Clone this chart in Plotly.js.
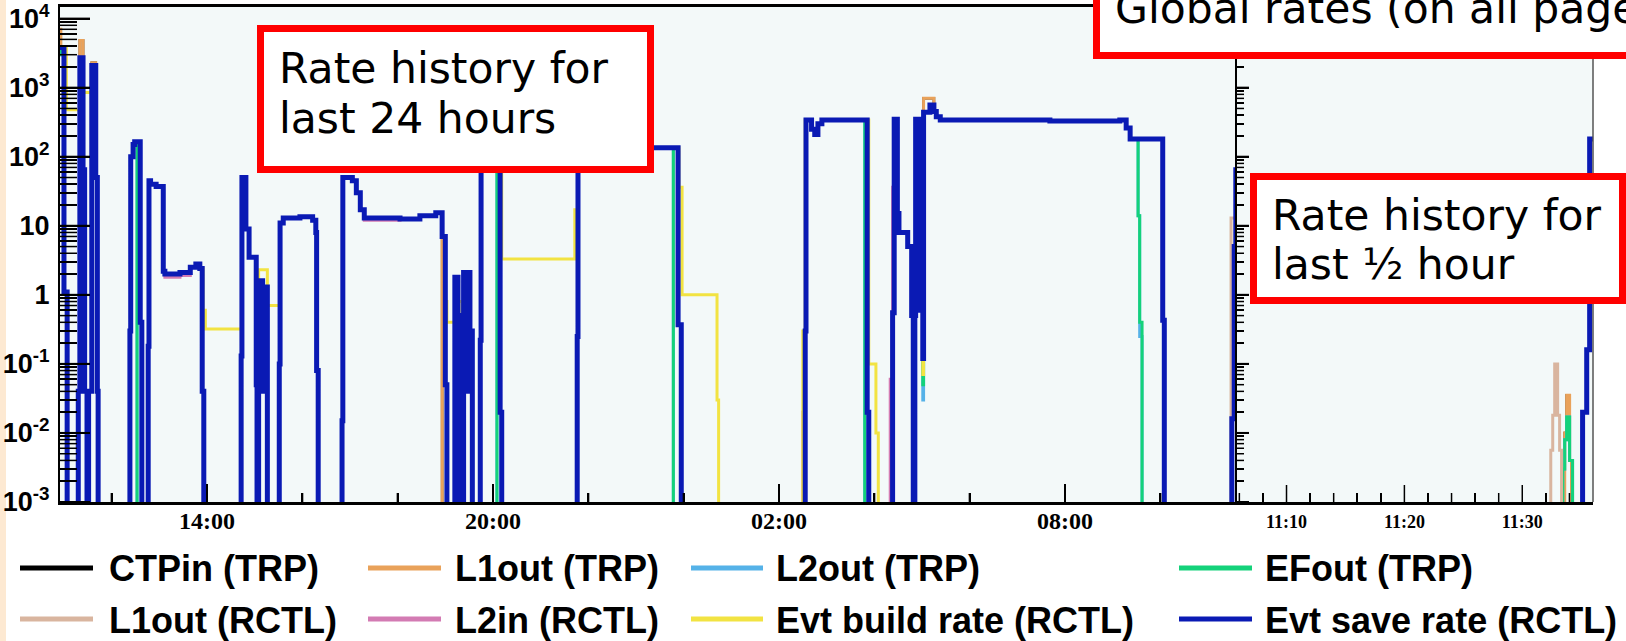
<!DOCTYPE html>
<html><head><meta charset="utf-8">
<script src="https://cdn.plot.ly/plotly-3.0.1.min.js"></script>
<style>html,body{margin:0;padding:0;background:#fff;overflow:hidden}#chart{width:1626px;height:641px}</style>
</head><body><div id="chart"></div>
<script>
// ---------------- data ----------------
const OFF = 1e-5; // zero rate: lies below the 1e-3 floor of the log axis

const seriesNames = ['CTPin (TRP)', 'L1out (TRP)', 'L2out (TRP)', 'EFout (TRP)',
                     'L1out (RCTL)', 'L2in (RCTL)', 'Evt build rate (RCTL)', 'Evt save rate (RCTL)'];

// 24-hour history: change points of the step curves
const leftTimes = [
 '2008-09-10 10:54','2008-09-10 10:56','2008-09-10 11:00','2008-09-10 11:03','2008-09-10 11:04','2008-09-10 11:18','2008-09-10 11:20','2008-09-10 11:23','2008-09-10 11:24','2008-09-10 11:26',
 '2008-09-10 11:29','2008-09-10 11:31','2008-09-10 11:35','2008-09-10 11:40','2008-09-10 11:42','2008-09-10 11:43','2008-09-10 12:23','2008-09-10 12:24','2008-09-10 12:27','2008-09-10 12:29',
 '2008-09-10 12:32','2008-09-10 12:36','2008-09-10 12:38','2008-09-10 12:46','2008-09-10 12:47','2008-09-10 12:49','2008-09-10 12:56','2008-09-10 13:05','2008-09-10 13:07','2008-09-10 13:26',
 '2008-09-10 13:39','2008-09-10 13:46','2008-09-10 13:51','2008-09-10 13:54','2008-09-10 13:55','2008-09-10 13:56','2008-09-10 13:58','2008-09-10 14:43','2008-09-10 14:44','2008-09-10 14:49',
 '2008-09-10 14:53','2008-09-10 15:02','2008-09-10 15:03','2008-09-10 15:05','2008-09-10 15:08','2008-09-10 15:10','2008-09-10 15:13','2008-09-10 15:16','2008-09-10 15:31','2008-09-10 15:32',
 '2008-09-10 15:36','2008-09-10 15:57','2008-09-10 16:13','2008-09-10 16:17','2008-09-10 16:18','2008-09-10 16:20','2008-09-10 16:50','2008-09-10 16:51','2008-09-10 17:03','2008-09-10 17:08',
 '2008-09-10 17:13','2008-09-10 17:18','2008-09-10 18:03','2008-09-10 18:28','2008-09-10 18:48','2008-09-10 18:56','2008-09-10 19:00','2008-09-10 19:02','2008-09-10 19:12','2008-09-10 19:16',
 '2008-09-10 19:18','2008-09-10 19:21','2008-09-10 19:23','2008-09-10 19:26','2008-09-10 19:29','2008-09-10 19:31','2008-09-10 19:34','2008-09-10 19:44','2008-09-10 19:45','2008-09-10 20:05',
 '2008-09-10 20:09','2008-09-10 20:11','2008-09-10 21:43','2008-09-10 21:46','2008-09-10 21:47','2008-09-10 23:47','2008-09-10 23:53','2008-09-10 23:54','2008-09-10 23:57','2008-09-10 23:58',
 '2008-09-11 00:42','2008-09-11 00:44','2008-09-11 02:30','2008-09-11 02:33','2008-09-11 02:34','2008-09-11 02:41','2008-09-11 02:45','2008-09-11 02:49','2008-09-11 02:54','2008-09-11 03:48',
 '2008-09-11 03:51','2008-09-11 03:53','2008-09-11 04:02','2008-09-11 04:05','2008-09-11 04:20','2008-09-11 04:23','2008-09-11 04:25','2008-09-11 04:29','2008-09-11 04:31','2008-09-11 04:42',
 '2008-09-11 04:47','2008-09-11 04:49','2008-09-11 04:51','2008-09-11 04:52','2008-09-11 04:56','2008-09-11 04:59','2008-09-11 05:01','2008-09-11 05:02','2008-09-11 05:04','2008-09-11 05:10',
 '2008-09-11 05:15','2008-09-11 05:18','2008-09-11 05:23','2008-09-11 07:41','2008-09-11 09:09','2008-09-11 09:17','2008-09-11 09:22','2008-09-11 09:32','2008-09-11 09:34','2008-09-11 09:37',
 '2008-09-11 10:03','2008-09-11 10:05','2008-09-11 11:29','2008-09-11 11:30','2008-09-11 11:33','2008-09-11 11:35','2008-09-11 11:38'];

const leftCTPin = [
 7000,3800,1.1,1.1,OFF,0.04,4800,4800,65,0.04,  OFF,0.04,2300,50,0.04,OFF,0.3,100,150,165,
 165,0.4,OFF,0.18,45,40,37,2.2,2.0,2.1,  2.5,2.8,2.4,0.04,0.04,OFF,OFF,0.13,50,9,
 3.5,0.05,OFF,0.05,1.6,0.04,1.3,OFF,0.1,11,  13,13.5,12,8,0.08,OFF,0.015,50,45,30,
 17,13,12.5,14,15.5,OFF,OFF,OFF,1.8,OFF,  0.5,OFF,2.1,0.04,2.1,0.3,OFF,0.22,150,150,
 0.02,OFF,OFF,0.25,135,135,0.37,0.37,OFF,OFF,  OFF,OFF,OFF,0.3,340,250,210,300,340,340,
 0.02,OFF,OFF,OFF,OFF,0.55,350,15,8,5,  0.5,OFF,0.5,350,0.6,300,0.12,700,700,700,
 450,380,340,330,340,260,180,180,180,180,  0.43,OFF,OFF,0.016,5,65,65];
const leftL1outTRP = [
 7000,3800,1.1,1.1,OFF,0.04,4800,4800,65,0.04,  OFF,0.04,2300,50,0.04,OFF,0.3,100,150,165,
 165,0.4,OFF,0.18,45,40,37,2.2,2.0,2.1,  2.5,2.8,2.4,0.04,0.04,OFF,OFF,0.13,50,9,
 3.5,0.05,OFF,0.05,1.6,0.04,1.3,OFF,0.1,11,  13,13.5,12,8,0.08,OFF,0.015,50,45,30,
 17,13,12.5,14,15.5,OFF,OFF,OFF,1.8,OFF,  0.5,OFF,2.1,0.04,2.1,0.3,OFF,0.22,150,150,
 0.02,OFF,OFF,0.25,135,135,0.37,0.37,OFF,OFF,  OFF,OFF,OFF,0.3,340,250,210,300,340,340,
 0.02,OFF,OFF,OFF,OFF,0.55,350,15,8,5,  0.5,OFF,0.5,350,0.6,300,0.12,700,700,700,
 450,380,340,330,340,260,180,180,180,180,  0.43,OFF,OFF,0.016,5,65,65];
const leftL2outTRP = [
 3000,3800,1.1,1.1,OFF,0.04,2700,2700,65,0.04,  OFF,0.04,2100,50,0.04,OFF,0.3,100,150,165,
 OFF,OFF,OFF,0.18,45,40,37,2.2,2.0,2.1,  2.5,2.8,2.4,0.04,0.04,OFF,OFF,0.13,50,9,
 3.5,0.05,OFF,0.05,1.6,0.04,1.3,OFF,0.1,11,  13,13.5,12,8,0.08,OFF,0.015,50,45,30,
 17,13,12.5,14,15.5,7,0.05,OFF,1.8,OFF,  0.5,OFF,2.1,0.04,2.1,0.3,OFF,0.22,150,OFF,
 OFF,OFF,OFF,0.25,135,OFF,OFF,OFF,OFF,OFF,  OFF,OFF,OFF,0.3,340,250,210,300,340,OFF,
 OFF,OFF,OFF,OFF,OFF,0.55,350,15,8,5,  0.5,OFF,0.5,350,0.6,300,0.03,440,440,560,
 450,380,340,330,340,260,180,14,0.25,OFF,  OFF,OFF,OFF,0.016,5,65,65];
const leftEFoutTRP = [
 3000,3800,1.1,1.1,OFF,0.04,2700,2700,65,0.04,  OFF,0.04,2100,50,0.04,OFF,0.3,100,150,165,
 OFF,OFF,OFF,0.18,45,40,37,2.2,2.0,2.1,  2.5,2.8,2.4,0.04,0.04,OFF,OFF,0.13,50,9,
 3.5,0.05,OFF,0.05,1.6,0.04,1.3,OFF,0.1,11,  13,13.5,12,8,0.08,OFF,0.015,50,45,30,
 17,13,12.5,14,15.5,7,0.05,OFF,1.8,OFF,  0.5,OFF,2.1,0.04,2.1,0.3,OFF,0.22,150,OFF,
 OFF,OFF,OFF,0.25,135,OFF,OFF,OFF,OFF,OFF,  OFF,OFF,OFF,0.3,340,250,210,300,340,OFF,
 OFF,OFF,OFF,OFF,OFF,0.55,350,15,8,5,  0.5,OFF,0.5,350,0.6,300,0.05,440,440,560,
 450,380,340,330,340,260,180,14,0.4,OFF,  OFF,OFF,OFF,0.016,5,65,65];
const leftL1outRCTL = [
 3800,3800,1.1,1.1,OFF,0.04,2700,2700,65,0.04,  OFF,0.04,2100,50,0.04,OFF,0.3,100,150,165,
 165,0.4,OFF,0.18,45,40,37,2.2,2.0,2.1,  2.5,2.8,2.4,0.04,0.04,OFF,OFF,0.13,50,9,
 3.5,0.05,OFF,0.05,1.6,0.04,1.3,OFF,0.1,11,  13,13.5,12,8,0.08,OFF,0.015,50,45,30,
 17,13,12.5,14,15.5,7,0.05,OFF,1.8,OFF,  0.5,OFF,2.1,0.04,2.1,0.3,OFF,0.22,150,150,
 0.02,OFF,OFF,0.25,135,135,0.37,0.37,OFF,OFF,  OFF,OFF,OFF,0.3,340,250,210,300,340,340,
 0.02,OFF,OFF,OFF,OFF,0.55,350,15,8,5,  0.5,OFF,0.5,350,0.6,300,0.12,440,440,560,
 450,380,340,330,340,260,180,180,180,180,  0.43,OFF,13,13,13,65,65];
const leftL2inRCTL = [
 3800,3800,1.1,1.1,OFF,0.04,2700,2700,65,0.04,  OFF,0.04,2100,50,0.04,OFF,0.3,100,150,165,
 165,0.4,OFF,0.18,45,40,37,2.2,1.8,1.9,  2.5,2.8,2.4,0.04,0.04,OFF,OFF,0.13,50,9,
 3.5,0.05,OFF,0.05,1.6,0.04,1.3,OFF,0.1,11,  13,13.5,12,8,0.08,OFF,0.015,50,45,30,
 17,12,12.5,14,15.5,7,0.05,OFF,1.8,OFF,  0.5,OFF,2.1,0.04,2.1,0.3,OFF,0.22,150,150,
 0.02,OFF,OFF,0.25,135,135,0.37,0.37,OFF,OFF,  OFF,OFF,0.02,0.3,340,250,210,300,340,340,
 0.02,OFF,OFF,OFF,0.06,36,350,15,8,5,  0.5,OFF,0.5,350,0.6,300,0.12,440,440,560,
 450,380,340,330,340,260,180,180,180,180,  0.43,OFF,OFF,0.016,5,65,65];
const leftEvtBuild = [
 3800,3800,3800,480,480,480,2700,2700,850,850,  850,850,2100,50,0.04,OFF,0.3,100,150,165,
 165,0.4,OFF,0.18,45,40,37,2.2,2.0,2.1,  2.5,2.8,2.4,2.4,0.6,0.6,0.32,0.32,50,9,
 3.5,0.05,OFF,2.3,2.3,2.3,2.3,0.7,0.7,11,  13,13.5,12,8,0.08,OFF,0.015,50,45,30,
 17,13,12.5,14,15.5,7,0.8,0.4,1.8,0.8,  0.8,0.15,2.1,0.5,2.1,0.3,OFF,0.22,150,150,
 150,3.3,17,17,135,135,135,36,36,1.0,  0.03,OFF,0.3,340,340,250,210,300,340,340,
 340,0.1,0.01,OFF,OFF,0.55,350,15,8,5,  0.5,OFF,0.5,350,0.6,300,0.07,440,440,560,
 450,380,340,330,340,260,180,180,180,180,  0.43,OFF,OFF,0.016,5,65,65];
const leftEvtSave = [
 3800,3800,1.1,1.1,OFF,0.04,2700,2700,65,0.04,  OFF,0.04,2100,50,0.04,OFF,0.3,100,150,165,
 165,0.4,OFF,0.18,45,40,37,2.2,2.0,2.1,  2.5,2.8,2.4,0.04,0.04,OFF,OFF,0.13,50,9,
 3.5,0.05,OFF,0.05,1.6,0.04,1.3,OFF,0.1,11,  13,13.5,12,8,0.08,OFF,0.015,50,45,30,
 17,13,12.5,14,15.5,7,0.05,OFF,1.8,OFF,  0.5,OFF,2.1,0.04,2.1,0.3,OFF,0.22,150,150,
 0.02,OFF,OFF,0.25,135,135,0.37,0.37,OFF,OFF,  OFF,OFF,OFF,0.3,340,250,210,300,340,340,
 0.02,OFF,OFF,OFF,OFF,0.55,350,15,8,5,  0.5,OFF,0.5,350,0.6,300,0.12,440,440,560,
 450,380,340,330,340,260,180,180,180,180,  0.43,OFF,OFF,0.016,5,65,65];

// last half hour
const rightTimes = ['2008-09-11 11:05:00','2008-09-11 11:32:25','2008-09-11 11:32:35','2008-09-11 11:32:45','2008-09-11 11:33:00',
 '2008-09-11 11:33:10','2008-09-11 11:33:20','2008-09-11 11:33:26','2008-09-11 11:33:36','2008-09-11 11:33:46','2008-09-11 11:34:01',
 '2008-09-11 11:34:11','2008-09-11 11:34:16','2008-09-11 11:35:07','2008-09-11 11:35:28','2008-09-11 11:35:43','2008-09-11 11:37:00'];
const rightCTPin      = [OFF,OFF,OFF,OFF,OFF,OFF,OFF,OFF,0.01,0.035,0.004,OFF,OFF,0.02,0.16,180,180];
const rightL1outTRP   = [OFF,OFF,OFF,OFF,OFF,OFF,OFF,OFF,0.01,0.035,0.004,OFF,OFF,0.02,0.16,180,180];
const rightL2outTRP   = [OFF,OFF,OFF,OFF,OFF,OFF,OFF,0.003,0.008,0.017,0.004,0.004,OFF,0.02,0.16,180,180];
const rightEFoutTRP   = [OFF,OFF,OFF,OFF,OFF,OFF,OFF,0.003,0.008,0.017,0.004,0.004,OFF,0.02,0.16,180,180];
const rightL1outRCTL  = [OFF,0.0056,0.018,0.1,0.018,0.0056,OFF,OFF,OFF,OFF,OFF,OFF,OFF,0.02,0.16,180,180];
const rightL2inRCTL   = [OFF,OFF,OFF,OFF,OFF,OFF,OFF,OFF,OFF,OFF,OFF,OFF,OFF,0.02,0.16,180,180];
const rightEvtBuild   = [OFF,OFF,OFF,OFF,OFF,OFF,OFF,OFF,OFF,OFF,OFF,OFF,OFF,0.02,0.16,180,180];
const rightEvtSave    = [OFF,OFF,OFF,OFF,OFF,OFF,OFF,OFF,OFF,OFF,OFF,OFF,OFF,0.02,0.16,180,180];

const yTickVals  = [0.001, 0.01, 0.1, 1, 10, 100, 1000, 10000];
const yTickText  = ['10<sup>-3</sup>','10<sup>-2</sup>','10<sup>-1</sup>','1','10','10<sup>2</sup>','10<sup>3</sup>','10<sup>4</sup>'];

// ---------------- styles / layout ----------------
const seriesColors = ['#000000','#e9a25a','#55b2e8','#14d27a','#d9b59f','#d37bb3','#f2e342','#0a1ab4'];
const seriesWidths = [2.5, 3, 3, 3, 3, 3, 3, 5];

const W = 1626, PT = 7, PB = 502;
const px = x => x / W;
const py = y => (PB - y) / (PB - PT);
const yRange = [-3, 4.168];
const leftRange = ['2008-09-10 10:55:00', '2008-09-11 11:36:30'];
const rightRange = ['2008-09-11 11:05:48', '2008-09-11 11:36:00'];

const yMinor = [];
for (let d = -3; d <= 3; d++) for (let m = 2; m <= 9; m++) yMinor.push(m * Math.pow(10, d));

const leftSeries  = [leftCTPin, leftL1outTRP, leftL2outTRP, leftEFoutTRP, leftL1outRCTL, leftL2inRCTL, leftEvtBuild, leftEvtSave];
const rightSeries = [rightCTPin, rightL1outTRP, rightL2outTRP, rightEFoutTRP, rightL1outRCTL, rightL2inRCTL, rightEvtBuild, rightEvtSave];

const traces = [];
leftSeries.forEach((v, i) => {
  if (v.length !== leftTimes.length) throw new Error('left length ' + seriesNames[i] + ' ' + v.length + ' vs ' + leftTimes.length);
  traces.push({type:'scatter', mode:'lines', x:leftTimes, y:v, name:seriesNames[i], xaxis:'x', yaxis:'y',
    line:{shape:'hv', color:seriesColors[i], width:seriesWidths[i]}, hoverinfo:'skip', showlegend:false});
});
rightSeries.forEach((v, i) => {
  if (v.length !== rightTimes.length) throw new Error('right length ' + seriesNames[i] + ' ' + v.length);
  traces.push({type:'scatter', mode:'lines', x:rightTimes, y:v, name:seriesNames[i], xaxis:'x2', yaxis:'y2',
    line:{shape:'hv', color:seriesColors[i], width:seriesWidths[i]}, hoverinfo:'skip', showlegend:false});
});

const axisCommon = {showgrid:false, zeroline:false, showline:true, linecolor:'black', tickcolor:'black', ticks:'inside', layer:'above traces'};

// ----- inside tick marks, placed on the same scales as the axes -----
const ms = s => Date.parse(s.replace(' ', 'T') + 'Z');
const t0L = ms(leftRange[0]), t1L = ms(leftRange[1]), t0R = ms(rightRange[0]), t1R = ms(rightRange[1]);
const xL = t => px(60) + (t - t0L) / (t1L - t0L) * (px(1237) - px(60));
const xR = t => px(1237) + (t - t0R) / (t1R - t0R) * (px(1593) - px(1237));
const yv = v => (Math.log10(v) - yRange[0]) / (yRange[1] - yRange[0]);
const shapes = [];
function hTick(x0, len, v, w) {
  shapes.push({type:'line', xref:'paper', yref:'paper', x0:px(x0), x1:px(x0 + len), y0:yv(v), y1:yv(v), line:{color:'black', width:w}, layer:'above'});
}
function vTick(xp, len, w) {
  shapes.push({type:'line', xref:'paper', yref:'paper', x0:xp, x1:xp, y0:0, y1:len / (PB - PT), line:{color:'black', width:w}, layer:'above'});
}
yTickVals.forEach(v => { hTick(60, 30, v, 2); hTick(1237, 12, v, 2); });
yMinor.forEach(v => { hTick(60, 17, v, 1.5); hTick(1237, 7, v, 1.5); });
const majL = ms('2008-09-10 02:00:00'), majR = ms('2008-09-11 11:00:00');
for (let t = ms('2008-09-10 12:00:00'); t < t1L; t += 7200000) vTick(xL(t), ((t - majL) % 21600000) === 0 ? 18 : 9, 2);
for (let t = ms('2008-09-11 11:06:00'); t < t1R; t += 120000) vTick(xR(t), ((t - majR) % 600000) === 0 ? 17 : 9, 1.5);

shapes.push(
  // peach strip at the far left
  {type:'rect', xref:'paper', yref:'paper', x0:0, x1:px(6), y0:py(650), y1:py(-10), fillcolor:'#fde9d2', line:{width:0}, layer:'below'},
  // right border of the half-hour panel
  {type:'line', xref:'paper', yref:'paper', x0:px(1593), x1:px(1593), y0:0, y1:1, line:{color:'#555555', width:1.5}, layer:'above'},
  // red callout boxes
  {type:'rect', xref:'paper', yref:'paper', x0:px(260.5), x1:px(650.5), y0:py(169.5), y1:py(28.5), fillcolor:'white', line:{color:'#ff0000', width:7}, layer:'above'},
  {type:'rect', xref:'paper', yref:'paper', x0:px(1096.5), x1:px(1720), y0:py(55.5), y1:py(-60), fillcolor:'white', line:{color:'#ff0000', width:7}, layer:'above'},
  {type:'rect', xref:'paper', yref:'paper', x0:px(1253.5), x1:px(1622.5), y0:py(300.5), y1:py(176.5), fillcolor:'white', line:{color:'#ff0000', width:7}, layer:'above'}
);

const boxFont = {family:'DejaVu Sans', size:42.5, color:'black'};
const annotations = [];
function note(text, x, top, font) {
  annotations.push({text, xref:'paper', yref:'paper', x:px(x), y:py(top), xanchor:'left', yanchor:'top',
    showarrow:false, align:'left', font, borderpad:0, borderwidth:0});
}
note('Rate history for', 279, 44, boxFont);
note('last 24 hours', 279, 94, boxFont);
note('Global rates (on all pages)', 1115, -16, boxFont);
note('Rate history for', 1272, 190.6, boxFont);
note('last \u00bd hour', 1272, 240, boxFont);

// legend drawn as sample lines + bold labels, 4 columns x 2 rows
const legLineX0 = [20, 368, 691, 1179], legLineX1 = [93, 441, 763, 1252], legTextX = [108.5, 454.5, 775.5, 1265];
const legLineY = [568, 619], legTextTop = [547.5, 599.5];
const legFont = {family:'Liberation Sans', size:36, color:'black', weight:'bold'};
seriesNames.forEach((n, i) => {
  const c = i % 4, r = Math.floor(i / 4);
  shapes.push({type:'line', xref:'paper', yref:'paper', x0:px(legLineX0[c]), x1:px(legLineX1[c]), y0:py(legLineY[r]), y1:py(legLineY[r]),
    line:{color:seriesColors[i], width:5}, layer:'above'});
  note('<b>' + n + '</b>', legTextX[c], legTextTop[r], legFont);
});

const layout = {
  width: 1626, height: 641,
  margin: {l:0, r:0, t:PT, b:641 - PB, pad:0},
  paper_bgcolor: 'white', plot_bgcolor: '#f3f9f9',
  showlegend: false,
  xaxis: Object.assign({}, axisCommon, {
    domain:[px(60), px(1237)], anchor:'y', type:'date', range:leftRange,
    tickmode:'linear', tick0:'2008-09-10 02:00', dtick:6*3600000, tickformat:'%H:%M',
    ticklen:18, tickwidth:2, linewidth:3, mirror:true,
    tickfont:{family:'Liberation Serif', size:24, color:'black', weight:'bold'}, ticklabelstandoff:-5,
    minor:{ticks:'inside', ticklen:9, tickwidth:2, tickcolor:'black', tick0:'2008-09-10 02:00', dtick:2*3600000, showgrid:false}
  }),
  yaxis: Object.assign({}, axisCommon, {
    domain:[0,1], anchor:'x', type:'log', range:yRange,
    tickmode:'array', tickvals:yTickVals, ticktext:yTickText,
    ticklen:30, tickwidth:2, linewidth:2, ticklabeloverflow:'allow',
    tickfont:{family:'Liberation Sans', size:27, color:'black', weight:'bold'}, ticklabelstandoff:3,
    minor:{tickmode:'array', tickvals:yMinor, ticks:'inside', ticklen:17, tickwidth:1.5, tickcolor:'black', showgrid:false}
  }),
  xaxis2: Object.assign({}, axisCommon, {
    domain:[px(1237), px(1593)], anchor:'y2', type:'date', range:rightRange,
    tickmode:'linear', tick0:'2008-09-11 11:00', dtick:600000, tickformat:'%H:%M',
    ticklen:17, tickwidth:1.5, linewidth:3,
    tickfont:{family:'Liberation Serif', size:18, color:'black', weight:'bold'}, ticklabelstandoff:1,
    minor:{ticks:'inside', ticklen:9, tickwidth:1.5, tickcolor:'black', tick0:'2008-09-11 11:00', dtick:120000, showgrid:false}
  }),
  yaxis2: Object.assign({}, axisCommon, {
    domain:[0,1], anchor:'x2', type:'log', range:yRange,
    tickmode:'array', tickvals:yTickVals, showticklabels:false,
    ticklen:12, tickwidth:2, linewidth:2,
    minor:{tickmode:'array', tickvals:yMinor, ticks:'inside', ticklen:7, tickwidth:1.5, tickcolor:'black', showgrid:false}
  }),
  shapes, annotations
};

Plotly.newPlot('chart', traces, layout, {staticPlot:true, displayModeBar:false});
</script>
</body></html>
